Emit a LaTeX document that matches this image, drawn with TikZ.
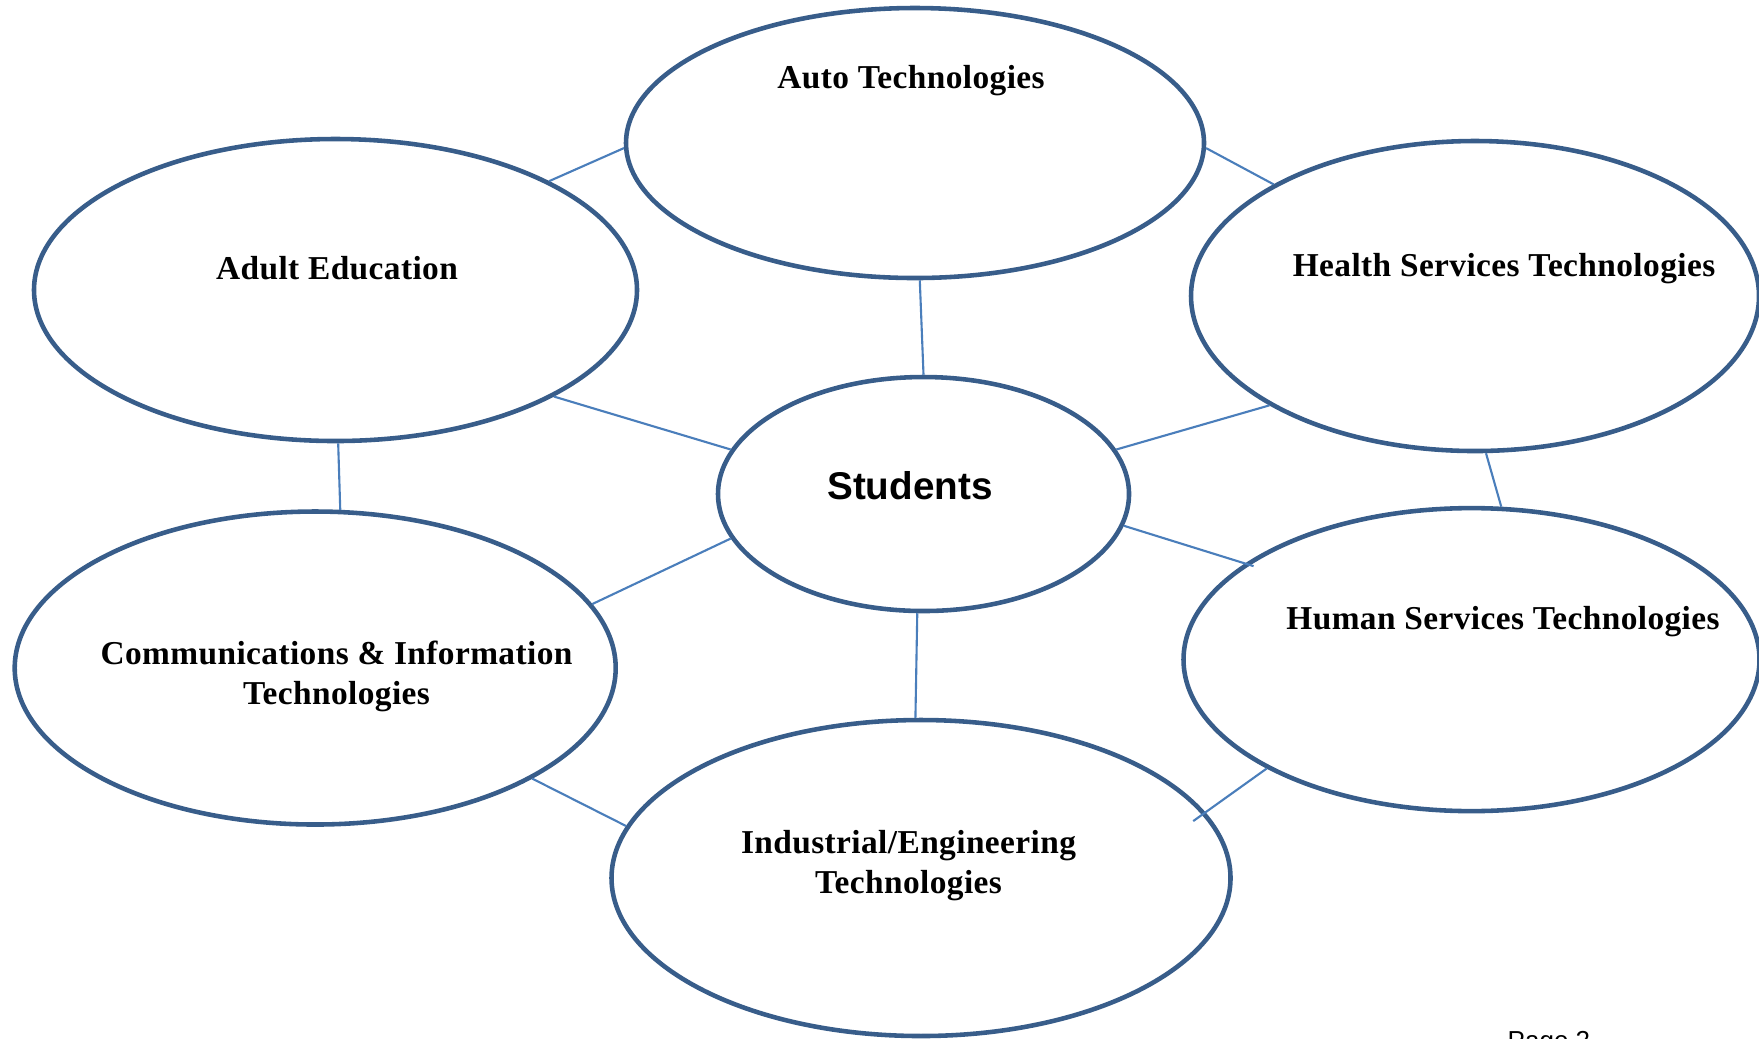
\documentclass[tikz,border=0pt]{standalone}
\usepackage{fontspec}
\setmainfont{Liberation Serif}
\setsansfont{Liberation Sans}
\usetikzlibrary{shapes.geometric}
\definecolor{ringblue}{RGB}{56,93,138}
\definecolor{linkblue}{RGB}{74,126,187}
\tikzset{bubble/.style={ellipse,draw=ringblue,line width=1.3pt,inner sep=0pt}}
\tikzset{link/.style={draw=linkblue,line width=0.6pt}}
\tikzset{caption/.style={font=\fontsize{9.5}{11.4}\selectfont\bfseries\addfontfeatures{LetterSpace=1.2},align=center,inner sep=0pt}}

\begin{document}
\begin{tikzpicture}
  \useasboundingbox (0,0) rectangle (17.59,-10.38);
  \clip (0,0) rectangle (17.59,-10.38);
  % the seven bubbles
  \node[bubble,minimum width=5.78cm,minimum height=2.70cm] (auto) at (9.15,-1.43) {};
  \node[bubble,minimum width=6.03cm,minimum height=3.02cm] (adult) at (3.355,-2.90) {};
  \node[bubble,minimum width=5.68cm,minimum height=3.10cm] (health) at (14.75,-2.96) {};
  \node[bubble,minimum width=4.11cm,minimum height=2.34cm] (students) at (9.235,-4.94) {};
  \node[bubble,minimum width=6.01cm,minimum height=3.13cm] (comm) at (3.152,-6.68) {};
  \node[bubble,minimum width=5.76cm,minimum height=3.03cm] (human) at (14.715,-6.596) {};
  \node[bubble,minimum width=6.19cm,minimum height=3.16cm] (industry) at (9.21,-8.78) {};
  % labels
  \node[caption] (autotext) at (9.11,-0.81) {Auto Technologies};
  \node[caption] (adulttext) at (3.37,-2.68) {Adult Education};
  \node[caption] (healthtext) at (15.04,-2.685) {Health Services Technologies};
  \node[inner sep=0pt,font=\sffamily\bfseries\fontsize{11}{13}\selectfont] (studtext) at (9.10,-4.86) {Students};
  \node[caption] (commtext) at (3.365,-6.765) {Communications \& Information\\Technologies};
  \node[caption] (humantext) at (15.03,-6.215) {Human Services Technologies};
  \node[caption] (industrytext) at (9.085,-8.66) {Industrial/Engineering\\Technologies};
  \node[inner sep=0pt,anchor=base west,font=\sffamily\fontsize{7.4}{9}\selectfont] (pagenum) at (15.07,-10.49) {Page 2};
  % links
  \draw[link] (adult.27.5) -- (auto.181);
  \draw[link] (auto.-1) -- (health.151);
  \draw[link] (auto.-88) -- (students.90);
  \draw[link] (adult.-26.6) -- (students.167.4);
  \draw[link] (students.13) -- (health.208.8);
  \draw[link] (adult.-89.2) -- (comm.81.4);
  \draw[link] (health.-86) -- (human.79);
  \draw[link] (comm.13.4) -- (students.193.8);
  \draw[link,shorten >=-0.09cm] (students.-9.5) -- (human.157.3);
  \draw[link] (students.-93) -- (industry.92.4);
  \draw[link] (comm.-27.3) -- (industry.170.6);
  \draw[link,shorten <=-0.15cm] (industry.13.2) -- (human.208.1);
\end{tikzpicture}
\end{document}
